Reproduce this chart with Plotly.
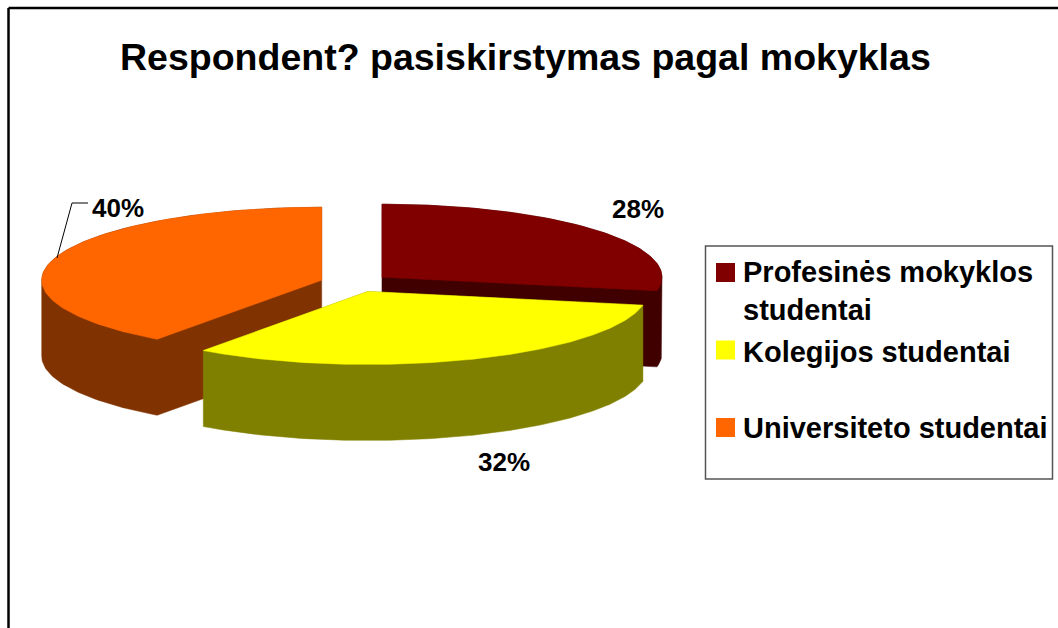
import numpy as np
import plotly.graph_objects as go

# ---- data ----
categories = ["Profesinės mokyklos studentai", "Kolegijos studentai", "Universiteto studentai"]
shares = [28, 32, 40]
title_text = "Respondent? pasiskirstymas pagal mokyklas"

# ---- style ----
top_colors = ["#800000", "#FFFF00", "#FF6600"]
side_colors = ["#400000", "#808000", "#803300"]
CX, CY = 355.0, 283.0      # pie centre (pixel space)
RX, RY = 280.0, 73.0       # ellipse radii of the tilted pie
DEPTH = 76.0               # thickness of the pie
EXPLODE = 0.125            # explosion as a fraction of the radius
label_xy = [(638, 209), (504, 462), (118, 208)]
FONT = "Liberation Sans, Arial, sans-serif"

W, H = 1058, 628


def hull(pts):
    pts = sorted(set(map(tuple, np.round(pts, 4))))
    def cross(o, a, b):
        return (a[0]-o[0])*(b[1]-o[1]) - (a[1]-o[1])*(b[0]-o[0])
    lower, upper = [], []
    for p in pts:
        while len(lower) >= 2 and cross(lower[-2], lower[-1], p) <= 0:
            lower.pop()
        lower.append(p)
    for p in reversed(pts):
        while len(upper) >= 2 and cross(upper[-2], upper[-1], p) <= 0:
            upper.pop()
        upper.append(p)
    return np.array(lower[:-1] + upper[:-1])


total = float(sum(shares))
bounds = np.concatenate([[0], np.cumsum(shares)]) / total * 360.0

slices = []
for i, v in enumerate(shares):
    a0, a1 = bounds[i], bounds[i+1]
    am = np.radians((a0 + a1) / 2)
    ox = CX + EXPLODE * RX * np.sin(am)
    oy = CY - EXPLODE * RY * np.cos(am)
    th = np.radians(np.linspace(a0, a1, 120))
    ax = ox + RX * np.sin(th)
    ay = oy - RY * np.cos(th)
    top_x = np.concatenate([[ox], ax, [ox]])
    top_y = np.concatenate([[oy], ay, [oy]])
    pts = np.column_stack([np.concatenate([top_x, top_x]),
                           np.concatenate([top_y, top_y + DEPTH])])
    h = hull(pts)
    slices.append(dict(top_x=top_x, top_y=top_y, side=h, ox=ox, oy=oy, th=th))

fig = go.Figure()
for i in [0, 2, 1]:
    s = slices[i]
    hx = np.append(s["side"][:, 0], s["side"][0, 0])
    hy = np.append(s["side"][:, 1], s["side"][0, 1])
    fig.add_trace(go.Scatter(x=hx, y=hy, fill="toself", fillcolor=side_colors[i],
                             mode="lines", line=dict(color=side_colors[i], width=0.5),
                             hoverinfo="skip", showlegend=False))
    fig.add_trace(go.Scatter(x=s["top_x"], y=s["top_y"], fill="toself",
                             fillcolor=top_colors[i], mode="lines",
                             line=dict(color=top_colors[i], width=0.5),
                             name=categories[i], showlegend=False,
                             hovertemplate=f"{categories[i]}: {shares[i]}%<extra></extra>"))

# percentage labels
for i, v in enumerate(shares):
    fig.add_annotation(x=label_xy[i][0], y=label_xy[i][1], text=f"<b>{v}%</b>",
                       showarrow=False, font=dict(family=FONT, size=26, color="black"),
                       xanchor="center", yanchor="middle")

# leader line for the orange slice label
fig.add_trace(go.Scatter(x=[88, 72, 57], y=[203, 203, 258], mode="lines",
                         line=dict(color="black", width=1), hoverinfo="skip",
                         showlegend=False))

# title
fig.add_annotation(x=525, y=57, text=f"<b>{title_text}</b>", showarrow=False,
                   font=dict(family=FONT, size=37.5, color="black"),
                   xanchor="center", yanchor="middle")

# frame and legend (legend drawn manually to match layout)
shapes = [
    dict(type="line", x0=8.5, y0=8, x1=W + 5, y1=8, line=dict(color="black", width=2.5)),
    dict(type="line", x0=8.5, y0=8, x1=8.5, y1=H + 5, line=dict(color="black", width=2.5)),
    dict(type="rect", x0=705.5, y0=246, x1=1052.5, y1=479,
         line=dict(color="#555555", width=1.5), fillcolor="rgba(0,0,0,0)"),
]
legend_rows = [(272.5, 291), (350, 352), (427.5, 428)]  # (square centre y, text centre y)
legend_texts = [categories[0].replace(" studentai", "<br>studentai"), categories[1], categories[2]]
for i in range(3):
    sq_y, tx_y = legend_rows[i]
    shapes.append(dict(type="rect", x0=716, x1=735, y0=sq_y - 9.5, y1=sq_y + 9.5,
                       line=dict(width=0), fillcolor=top_colors[i]))
    fig.add_annotation(x=741, y=tx_y, text=f"<b>{legend_texts[i]}</b>", showarrow=False,
                       font=dict(family=FONT, size=29, color="black"),
                       xanchor="left", yanchor="middle", align="left")

fig.update_layout(
    width=W, height=H, margin=dict(l=0, r=0, t=0, b=0),
    paper_bgcolor="white", plot_bgcolor="white",
    xaxis=dict(range=[0, W], visible=False, fixedrange=True),
    yaxis=dict(range=[H, 0], visible=False, fixedrange=True),
    shapes=shapes, showlegend=False,
)

fig.write_html("out.html", config={"displayModeBar": False},
               post_script="document.body.style.margin='0';document.body.style.overflow='hidden';")
